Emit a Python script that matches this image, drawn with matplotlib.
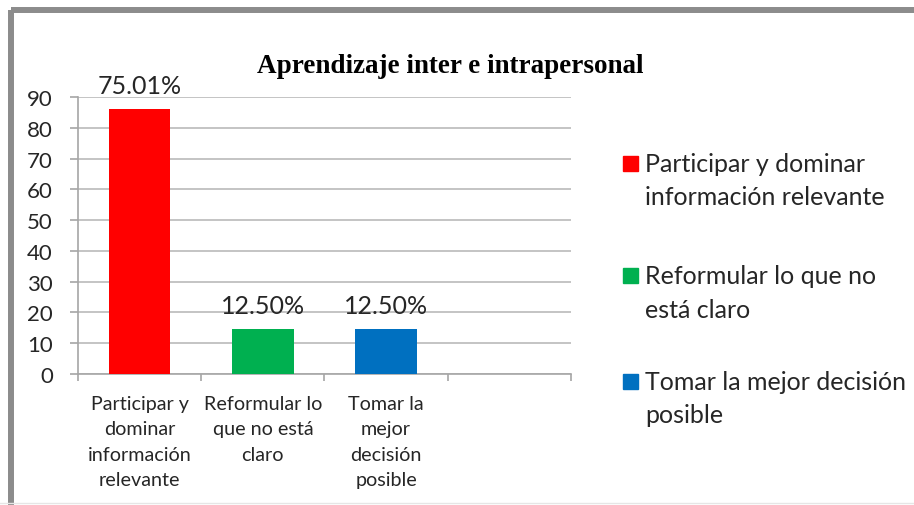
import matplotlib
matplotlib.use("Agg")
import matplotlib.pyplot as plt
from matplotlib.lines import Line2D
from matplotlib.patches import Rectangle

# datos del gráfico
categorias = ["Participar y\ndominar\ninformación\nrelevante",
              "Reformular lo\nque no está\nclaro",
              "Tomar la\nmejor\ndecisión\nposible"]
leyenda = ["Participar y dominar\ninformación relevante",
           "Reformular lo que no\nestá claro",
           "Tomar la mejor decisión\nposible"]
valores = [86, 14.5, 14.5]
etiquetas = ["75.01%", "12.50%", "12.50%"]
colores = ["#FF0000", "#00B050", "#0070C0"]
n_slots = 4  # Excel deja una cuarta categoría vacía

plt.rcParams["font.family"] = ["Lato", "DejaVu Sans"]
texto = "#262626"
gris = "#a6a6a6"

fig = plt.figure(figsize=(9.14, 5.06), dpi=100)
ax = fig.add_axes([0.0853, 0.2589, 0.5394, 0.5474])

x = list(range(len(valores)))
ax.bar(x, valores, width=0.5, color=colores, zorder=3)

for xi, v, et in zip(x, valores, etiquetas):
    ax.annotate(et, (xi, v), xytext=(0, 9), textcoords="offset points",
                ha="center", va="bottom", fontsize=18, color=texto)

ax.set_xlim(-0.5, n_slots - 0.5)
ax.set_ylim(0, 90)
ax.set_yticks(range(0, 91, 10))
ax.grid(axis="y", color="#bfbfbf", linewidth=1.3, zorder=0)

ax.set_xticks(x)
ax.set_xticklabels(categorias, fontsize=14.2, color=texto, linespacing=1.6)
ax.set_xticks([i - 0.5 for i in range(n_slots + 1)], minor=True)
ax.tick_params(axis="x", which="major", length=0, pad=15)
ax.tick_params(axis="x", which="minor", length=5, width=1.2, color=gris, direction="out")
ax.tick_params(axis="y", length=6, width=1.2, color=gris, labelsize=16, labelcolor=texto, pad=12)

for s in ["top", "right"]:
    ax.spines[s].set_visible(False)
ax.spines["left"].set_color(gris)
ax.spines["bottom"].set_color(gris)
ax.spines["left"].set_linewidth(1.2)
ax.spines["bottom"].set_linewidth(1.2)

fig.text(0.4923, 0.868, "Aprendizaje inter e intrapersonal", ha="center", va="center",
         fontsize=19.5, fontweight="bold", family="Liberation Serif", color="black")

# leyenda a mano: cuadro alineado con la primera línea del texto
y_leg = [0.6749, 0.4526, 0.2441]
for lab, col, yl in zip(leyenda, colores, y_leg):
    fig.patches.append(Rectangle((0.6816, yl - 0.0148), 0.0164, 0.0296, color=col,
                                 transform=fig.transFigure, figure=fig))
    fig.text(0.7057, yl + 0.0227, lab, ha="left", va="top", fontsize=18,
             color=texto, linespacing=1.53)

# marco gris del gráfico
fig.add_artist(Line2D([0.0115, 1.0], [0.978, 0.978], color="#8c8c8c", linewidth=4.3,
                      transform=fig.transFigure, solid_capstyle="butt"))
fig.add_artist(Line2D([0.0115, 0.0115], [0.978, 0.0], color="#8c8c8c", linewidth=4.3,
                      transform=fig.transFigure, solid_capstyle="butt"))
fig.add_artist(Line2D([0.0, 1.0], [0.003, 0.003], color="#e6e6e6", linewidth=1,
                      transform=fig.transFigure))

fig.savefig("out.png", dpi=100)
